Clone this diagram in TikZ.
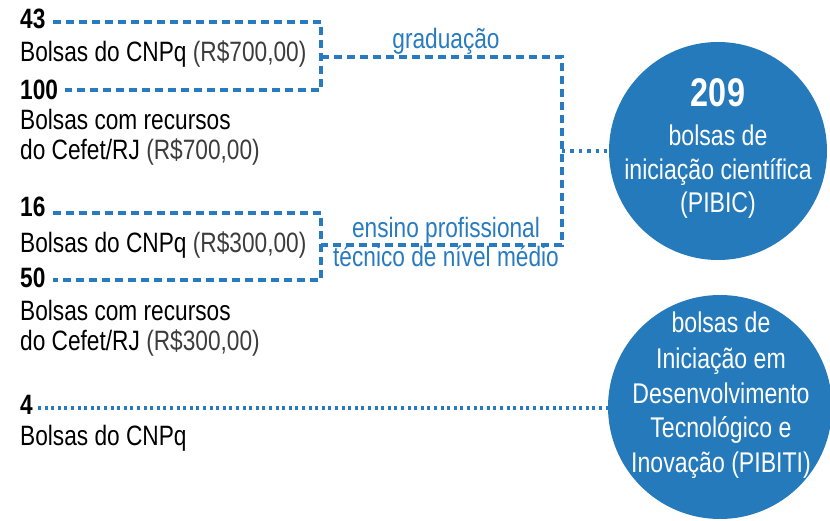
\documentclass[tikz,border=0pt]{standalone}
\usepackage{fontspec}
\setmainfont{Liberation Sans}[FakeStretch=0.81]
\definecolor{cblue}{RGB}{37,122,187}
\definecolor{lblue}{RGB}{40,123,192}
\definecolor{gtxt}{RGB}{60,60,60}
\begin{document}
\begin{tikzpicture}[x=1pt,y=-1pt,
  lbl/.style={font=\fontsize{28}{32}\selectfont, inner sep=0pt, anchor=base west, text=black},
  num/.style={lbl, font=\fontsize{28}{32}\selectfont\bfseries},
  bluelbl/.style={font=\fontsize{28}{32}\selectfont, inner sep=0pt, anchor=base, text=lblue},
  wlbl/.style={font=\fontsize{28.5}{32}\selectfont, inner sep=0pt, anchor=base, text=white},
  circ/.style={circle, fill=cblue, draw=none, inner sep=0pt},
  dashln/.style={draw=lblue, line width=3.3pt, dash pattern=on 8pt off 5pt},
  dotln/.style={draw=lblue, line width=3.2pt, dash pattern=on 3pt off 3.6pt},
  dotlnb/.style={draw=lblue, line width=3.4pt, dash pattern=on 3.4pt off 5pt}
]
\useasboundingbox (0,0) rectangle (830,521);

% circles
\node[circ, minimum size=218pt] (c1) at (718,151) {};
\node[circ, minimum size=224pt] (c2) at (720,407) {};

% circle texts
\node[wlbl, font=\fontsize{40}{44}\selectfont\bfseries] (c1a) at (718,107) {209};
\node[wlbl] (c1b) at (718,146) {bolsas de};
\node[wlbl] (c1c) at (718,180) {iniciação científica};
\node[wlbl] (c1d) at (718,213) {(PIBIC)};

\node[wlbl] (c2a) at (721,333) {bolsas de};
\node[wlbl] (c2b) at (721,368) {Iniciação em};
\node[wlbl] (c2c) at (721,403) {Desenvolvimento};
\node[wlbl] (c2d) at (721,437) {Tecnológico e};
\node[wlbl] (c2e) at (721,472) {Inovação (PIBITI)};

% left texts
\node[num] (n43) at (20,29) {43};
\node[lbl] (t43) at (20,62) {Bolsas do CNPq {\color{gtxt}(R\$700,00)}};
\node[num] (n100) at (20,100) {100};
\node[lbl] (t100a) at (20,130) {Bolsas com recursos};
\node[lbl] (t100b) at (20,160) {do Cefet/RJ {\color{gtxt}(R\$700,00)}};

\node[num] (n16) at (20,217) {16};
\node[lbl] (t16) at (20,253) {Bolsas do CNPq {\color{gtxt}(R\$300,00)}};
\node[num] (n50) at (20,288) {50};
\node[lbl] (t50a) at (20,320) {Bolsas com recursos};
\node[lbl] (t50b) at (20,350) {do Cefet/RJ {\color{gtxt}(R\$300,00)}};

\node[num] (n4) at (20,414) {4};
\node[lbl] (t4) at (20,445) {Bolsas do CNPq};

% blue labels
\node[bluelbl] (lg) at (446,49) {graduação};
\node[bluelbl] (le1) at (446,238) {ensino profissional};
\node[bluelbl] (le2) at (446,267) {técnico de nível médio};

% line heights and bracket coordinates
\coordinate (y43) at (0,22);
\coordinate (y100) at (0,90);
\coordinate (y16) at (0,213);
\coordinate (y50) at (0,280);
\coordinate (y4) at (0,408);
\coordinate (BL) at (321,0);
\coordinate (BR) at (562,0);
\coordinate (G1) at (321,57);
\coordinate (G2) at (321,245);

\coordinate (s43) at ([xshift=7pt]n43.east |- y43);
\coordinate (s100) at ([xshift=7pt]n100.east |- y100);
\coordinate (s16) at ([xshift=7pt]n16.east |- y16);
\coordinate (s50) at ([xshift=7pt]n50.east |- y50);
\coordinate (s4) at ([xshift=5pt]n4.east |- y4);

% connectors
\draw[dashln] (s43) -- (s43 -| BL) -- (s100 -| BL) -- (s100);
\draw[dashln] (s16) -- (s16 -| BL) -- (s50 -| BL) -- (s50);
\draw[dashln] (G1) -- (G1 -| BR) -- (G2 -| BR) -- (G2);
\draw[dotlnb] (BR |- c1) -- (c1.west);
\draw[dotln] (s4) -- (s4 -| c2.west);
\end{tikzpicture}
\end{document}
